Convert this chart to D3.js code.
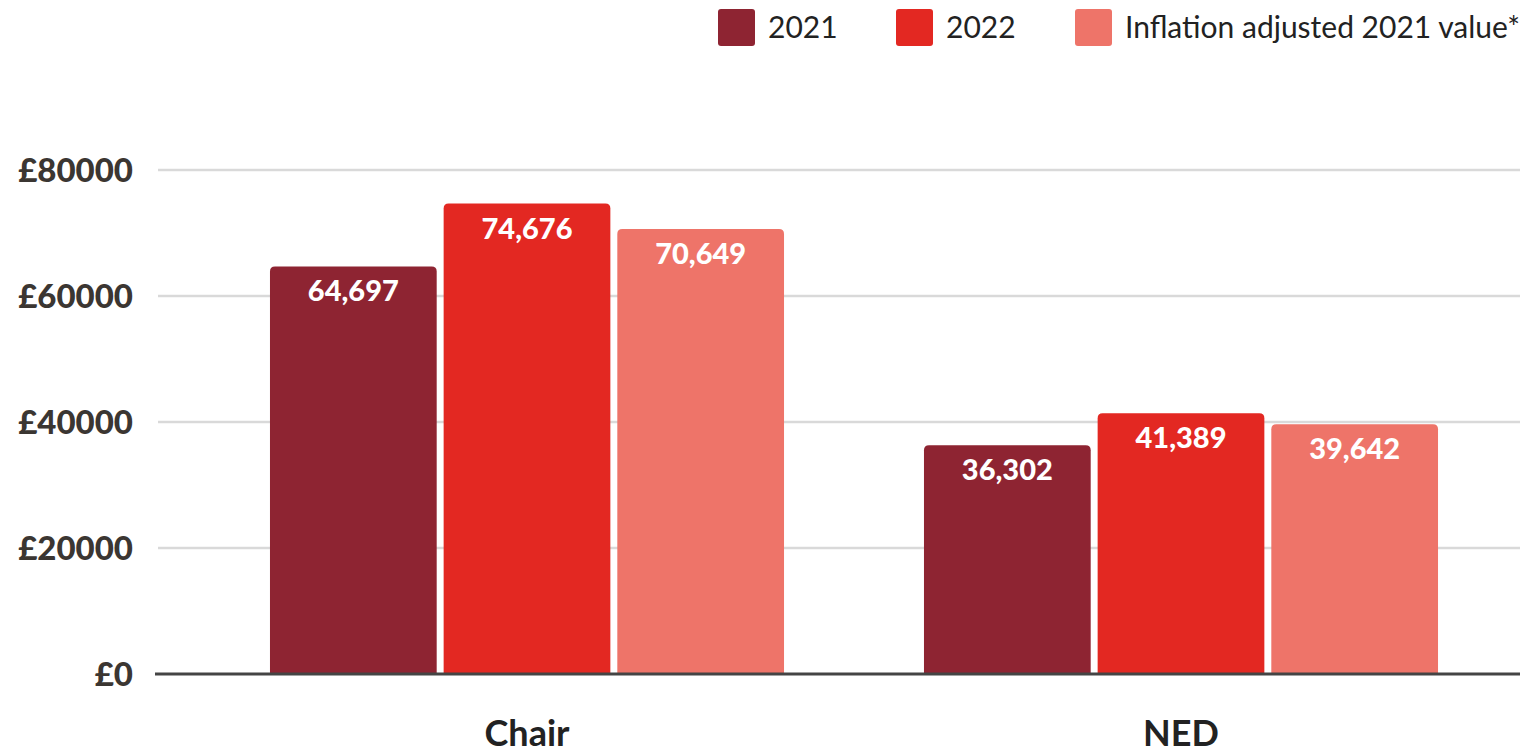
<!DOCTYPE html>
<html>
<head>
<meta charset="utf-8">
<script src="https://cdn.jsdelivr.net/npm/d3@7"></script>
<style>
  html, body { margin: 0; padding: 0; background: #ffffff; }
  svg { display: block; font-family: Lato, "Open Sans", sans-serif; }
</style>
</head>
<body>
<svg id="chart" width="1535" height="754"></svg>
<script>
// Board fees by role
const categories = ["Chair", "NED"];
const seriesNames = ["2021", "2022", "Inflation adjusted 2021 value*"];
const values2021 = [64697, 36302];
const values2022 = [74676, 41389];
const valuesInflationAdjusted = [70649, 39642];
const yTicks = [0, 20000, 40000, 60000, 80000];
const seriesColors = ["#8e2432", "#e32822", "#ee7469"];

const seriesValues = [values2021, values2022, valuesInflationAdjusted];
const rows = categories.map((c, i) => ({
  category: c,
  bars: seriesNames.map((s, j) => ({ series: s, value: seriesValues[j][i] }))
}));

const svg = d3.select("#chart");

const x0 = d3.scaleBand()
  .domain(categories)
  .range([200, 1508])
  .paddingInner(0.214)
  .paddingOuter(0.107);

const x1 = d3.scaleBand()
  .domain(seriesNames)
  .range([0, x0.bandwidth()])
  .paddingInner(0.04)
  .paddingOuter(0);

const y = d3.scaleLinear().domain([0, 80000]).range([674, 170]);
const color = d3.scaleOrdinal().domain(seriesNames).range(seriesColors);

// gridlines
svg.append("g")
  .selectAll("line")
  .data(yTicks.filter(t => t > 0))
  .join("line")
  .attr("x1", 158).attr("x2", 1520)
  .attr("y1", d => y(d)).attr("y2", d => y(d))
  .attr("stroke", "#d9d9d9")
  .attr("stroke-width", 2.5);

// y axis labels
const yAxis = svg.append("g")
  .attr("transform", "translate(133,0)")
  .call(d3.axisLeft(y).tickValues(yTicks).tickSize(0).tickPadding(0)
    .tickFormat(d => "£" + d));
yAxis.select(".domain").remove();
yAxis.selectAll("text")
  .attr("font-family", "Lato, sans-serif")
  .attr("font-weight", 900)
  .attr("font-size", 33)
  .attr("fill", "#3b3632")
  .attr("dy", "0.36em");

// bars with rounded tops
function topRoundedRect(x, yTop, w, h, r) {
  r = Math.min(r, h, w / 2);
  return `M${x},${yTop + h}V${yTop + r}Q${x},${yTop} ${x + r},${yTop}` +
    `H${x + w - r}Q${x + w},${yTop} ${x + w},${yTop + r}V${yTop + h}Z`;
}

const groups = svg.append("g")
  .selectAll("g")
  .data(rows)
  .join("g")
  .attr("transform", d => `translate(${x0(d.category)},0)`);

groups.selectAll("path")
  .data(d => d.bars)
  .join("path")
  .attr("d", d => topRoundedRect(x1(d.series), y(d.value), x1.bandwidth(), y(0) - y(d.value), 5))
  .attr("fill", d => color(d.series));

groups.selectAll("text.value")
  .data(d => d.bars)
  .join("text")
  .attr("class", "value")
  .attr("x", d => x1(d.series) + x1.bandwidth() / 2)
  .attr("y", d => y(d.value) + 35)
  .attr("text-anchor", "middle")
  .attr("font-weight", 900)
  .attr("font-size", 29)
  .attr("fill", "#ffffff")
  .text(d => d3.format(",")(d.value));

// baseline
svg.append("line")
  .attr("x1", 155).attr("x2", 1520)
  .attr("y1", y(0)).attr("y2", y(0))
  .attr("stroke", "#444444")
  .attr("stroke-width", 3);

// category labels
svg.append("g")
  .selectAll("text")
  .data(categories)
  .join("text")
  .attr("x", d => x0(d) + x0.bandwidth() / 2)
  .attr("y", 746)
  .attr("text-anchor", "middle")
  .attr("font-weight", 700)
  .attr("font-size", 36)
  .attr("fill", "#222222")
  .text(d => d);

// legend
const legendX = [718, 896, 1075];
const legend = svg.append("g")
  .selectAll("g")
  .data(seriesNames)
  .join("g")
  .attr("transform", (d, i) => `translate(${legendX[i]},9)`);
legend.append("rect")
  .attr("width", 37).attr("height", 37)
  .attr("rx", 3)
  .attr("fill", d => color(d));
legend.append("text")
  .attr("x", 50)
  .attr("y", 29)
  .attr("font-size", 30)
  .attr("fill", "#222222")
  .text(d => d);
</script>
</body>
</html>
